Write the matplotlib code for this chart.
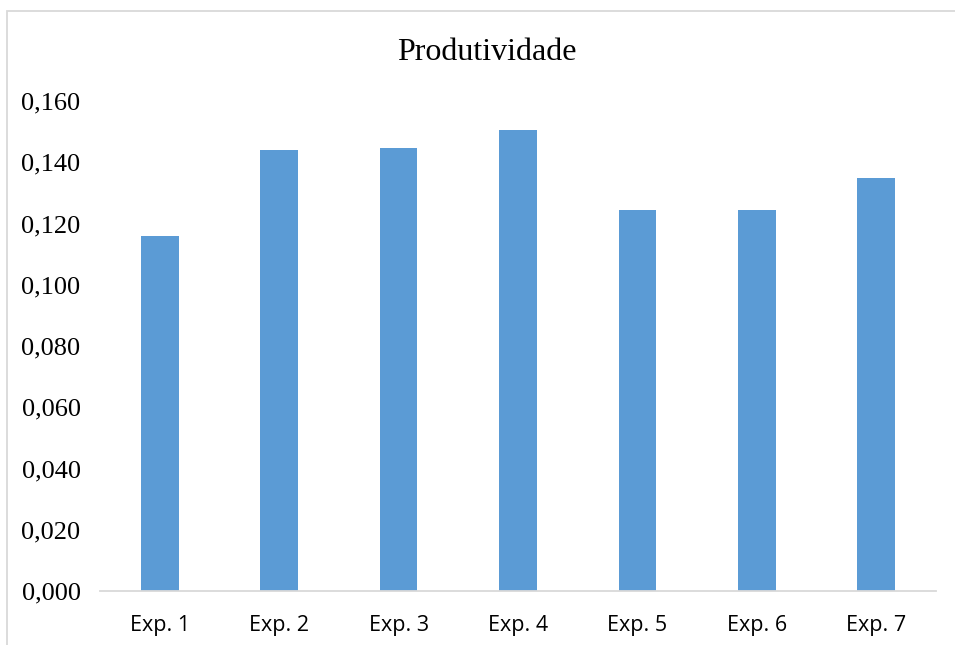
import matplotlib
matplotlib.use("Agg")
import matplotlib.pyplot as plt
from matplotlib.patches import Rectangle
from matplotlib.ticker import FuncFormatter

# Data
categories = ["Exp. 1", "Exp. 2", "Exp. 3", "Exp. 4", "Exp. 5", "Exp. 6", "Exp. 7"]
produtividade = [0.1158, 0.1440, 0.1448, 0.1505, 0.1244, 0.1243, 0.1349]
y_ticks = [0.000, 0.020, 0.040, 0.060, 0.080, 0.100, 0.120, 0.140, 0.160]

W, H = 955, 645
fig = plt.figure(figsize=(W / 100, H / 100), dpi=100)
fig.patch.set_facecolor("white")

# Chart-area frame (extends past the right and bottom edges)
frame = Rectangle((7 / W, -0.05), 1.2, 1 - 11 / H + 0.05, transform=fig.transFigure,
                  fill=False, edgecolor="#D9D9D9", linewidth=1.3, zorder=0)
fig.add_artist(frame)

left, right = 100 / W, 936 / W
bottom, top = 1 - 591 / H, 1 - 101 / H
ax = fig.add_axes([left, bottom, right - left, top - bottom])

x = range(len(categories))
ax.bar(x, produtividade, width=0.315, color="#5B9BD5", zorder=2)

ax.set_xlim(-0.5, len(categories) - 0.5)
ax.set_ylim(0, 0.16)
ax.set_yticks(y_ticks)
ax.yaxis.set_major_formatter(FuncFormatter(lambda v, p: f"{v:.3f}".replace(".", ",")))
ax.set_xticks(list(x))
ax.set_xticklabels(categories)

for lbl in ax.get_yticklabels():
    lbl.set_fontfamily("Liberation Serif")
    lbl.set_fontsize(19)
for lbl in ax.get_xticklabels():
    lbl.set_fontfamily("Open Sans")
    lbl.set_fontsize(15.5)

ax.tick_params(axis="y", length=0, pad=14, colors="black")
ax.tick_params(axis="x", length=0, pad=17.5, colors="black")

for side in ["top", "right", "left"]:
    ax.spines[side].set_visible(False)
ax.spines["bottom"].set_color("#D9D9D9")
ax.spines["bottom"].set_linewidth(1.3)

fig.text(487 / W, 1 - 52 / H, "Produtividade", ha="center", va="center",
         fontfamily="Liberation Serif", fontsize=23)

fig.savefig("out.png", dpi=100, facecolor="white")
